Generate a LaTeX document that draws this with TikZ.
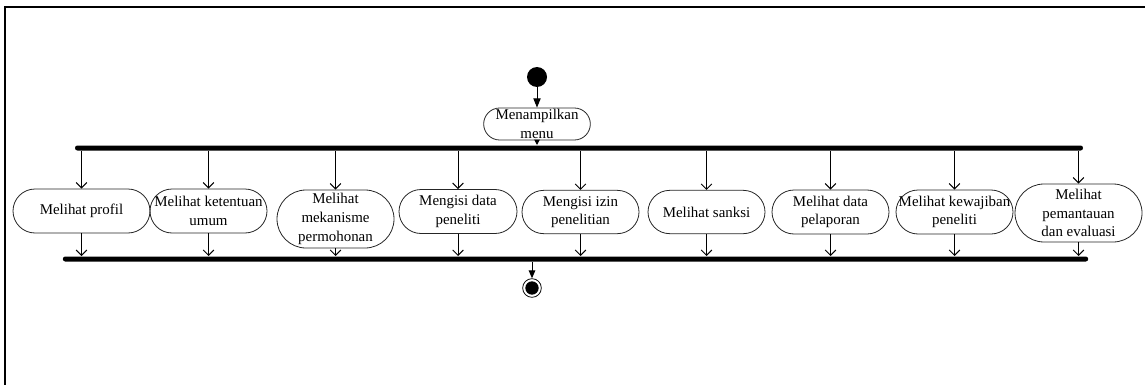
\documentclass[tikz,border=0pt]{standalone}
\usepackage{fontspec}
\setmainfont{Liberation Serif}
\usetikzlibrary{arrows.meta}

\def\lebar{87.75pt}

\begin{document}
\begin{tikzpicture}[x=0.75pt,y=-0.75pt,line width=0.75pt,>={Straight Barb[length=4pt,width=8pt]}]
		\tikzstyle{aktivitas}=[rectangle,draw=black!85,line width=0.6pt,align=center,inner xsep=1pt,inner ysep=0pt,font=\fontsize{11.2}{14}\selectfont]
		\tikzstyle{batang}=[fill=black,rounded corners=1.8pt,minimum height=3.75pt,inner sep=0pt]
		\tikzstyle{alir}=[->]
		\tikzstyle{alirpenuh}=[-{Triangle[length=7pt,width=5.5pt]}]

		\useasboundingbox (0,0) rectangle (1145,385);
		% bingkai
		\draw[line width=1.5pt] (5,385) -- (5,7) -- (1145,7);

		\node[circle,fill=black,minimum size=15pt,inner sep=0pt] (awal) at (537,77) {};
		\node[aktivitas,minimum width=80pt,minimum height=24pt,rounded corners=12pt] (menu) at (537,124) {Menampilkan\\menu};
		\node[batang,minimum width=756pt] (fork) at (579,148) {};
		\node[batang,minimum width=769pt] (join) at (575.5,259) {};
		\node[circle,draw,line width=0.6pt,minimum size=14pt,inner sep=0pt,
			path picture={\fill (path picture bounding box.center) circle (5pt);}] (akhir) at (532,288) {};

		\foreach \nama/\x/\y/\w/\h/\teks in {
			profil/81.5/211/102.75/33/{Melihat profil},
			ketentuan/208.5/211/87.75/33/{Melihat ketentuan\\umum},
			mekanisme/335.5/219/87.75/43.5/{Melihat\\mekanisme\\permohonan},
			data/458/211.5/88.5/33/{Mengisi data\\peneliti},
			izin/580.5/212/87.75/32.5/{Mengisi izin\\penelitian},
			sanksi/706.5/212/87.75/32.5/{Melihat sanksi},
			lapor/830.5/212/87.75/33/{Melihat data\\pelaporan},
			wajib/954.5/212/87.75/33/{Melihat kewajiban\\peneliti},
			pantau/1078.5/213/95.25/43.5/{Melihat\\pemantauan\\dan evaluasi}}
			\node[aktivitas,minimum width=\w pt,minimum height=\h pt,rounded corners=0.5*\h pt] (\nama) at (\x,\y) {\teks};

		\draw[alirpenuh] (awal) -- (menu);
		\draw[-{Triangle[length=4pt,width=4pt]}] (menu) -- (menu |- fork.north);
		\foreach \nama in {profil,ketentuan,mekanisme,data,izin,sanksi,lapor,wajib,pantau} {
			\draw[alir] (\nama.north |- fork.south) -- (\nama.north);
			\draw[alir] (\nama.south) -- (\nama.south |- join.north);
		}
		\draw[-{Triangle[length=6pt,width=5pt]}] (akhir |- join.south) -- (akhir);
	\end{tikzpicture}
\end{document}
